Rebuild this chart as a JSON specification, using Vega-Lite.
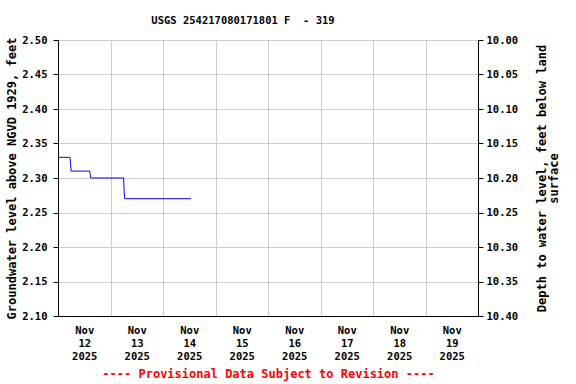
{
  "$schema": "https://vega.github.io/schema/vega-lite/v6.json",
  "width": 420,
  "height": 276,
  "autosize": {"type": "none"},
  "padding": {"left": 58, "top": 40, "right": 98, "bottom": 68},
  "background": "white",
  "title": {"text": "USGS 254217080171801 F\u00a0 - 319", "font": "DejaVu Sans Mono", "fontSize": 10.5, "fontWeight": "bold", "color": "black", "offset": 9, "dx": -25},
  "config": {
    "view": {"stroke": "black", "strokeWidth": 1},
    "axis": {
      "labelFont": "DejaVu Sans Mono", "labelFontWeight": "bold", "labelFontSize": 10.5, "labelColor": "black",
      "titleFont": "DejaVu Sans Mono", "titleFontWeight": "bold", "titleFontSize": 12, "titleColor": "black",
      "domainColor": "black", "tickColor": "black", "gridColor": "#cccccc", "gridWidth": 1, "gridOpacity": 1
    }
  },
  "data": {"values": [
    {"time": "2025-11-12T00:00:00", "level": 2.33},
    {"time": "2025-11-12T05:30:00", "level": 2.33},
    {"time": "2025-11-12T05:45:00", "level": 2.32},
    {"time": "2025-11-12T06:00:00", "level": 2.31},
    {"time": "2025-11-12T14:30:00", "level": 2.31},
    {"time": "2025-11-12T14:45:00", "level": 2.305},
    {"time": "2025-11-12T15:00:00", "level": 2.30},
    {"time": "2025-11-13T06:00:00", "level": 2.30},
    {"time": "2025-11-13T06:15:00", "level": 2.28},
    {"time": "2025-11-13T06:30:00", "level": 2.27},
    {"time": "2025-11-14T12:45:00", "level": 2.27}
  ]},
  "layer": [
    {
      "mark": {"type": "line", "color": "#0000ff", "strokeWidth": 1, "clip": true},
      "encoding": {
        "x": {
          "field": "time", "type": "temporal",
          "scale": {"domain": [{"year": 2025, "month": 11, "date": 12}, {"year": 2025, "month": 11, "date": 20}]},
          "axis": {
            "values": [
              {"year": 2025, "month": 11, "date": 12, "hours": 12},
              {"year": 2025, "month": 11, "date": 13, "hours": 12},
              {"year": 2025, "month": 11, "date": 14, "hours": 12},
              {"year": 2025, "month": 11, "date": 15, "hours": 12},
              {"year": 2025, "month": 11, "date": 16, "hours": 12},
              {"year": 2025, "month": 11, "date": 17, "hours": 12},
              {"year": 2025, "month": 11, "date": 18, "hours": 12},
              {"year": 2025, "month": 11, "date": 19, "hours": 12}
            ],
            "labelExpr": "[timeFormat(datum.value, '%b'), timeFormat(datum.value, '%d'), timeFormat(datum.value, '%Y')]",
            "labelLineHeight": 13, "labelPadding": 9, "labelAngle": 0,
            "grid": false, "ticks": false, "domain": true,
            "title": "---- Provisional Data Subject to Revision ----",
            "titleColor": "red", "titlePadding": 7
          }
        },
        "y": {
          "field": "level", "type": "quantitative",
          "scale": {"domain": [2.1, 2.5], "nice": false, "zero": false},
          "axis": {
            "values": [2.1, 2.15, 2.2, 2.25, 2.3, 2.35, 2.4, 2.45, 2.5],
            "format": ".2f", "grid": true, "tickSize": 5, "labelPadding": 6,
            "title": "Groundwater level above NGVD 1929, feet", "titlePadding": 3
          }
        }
      }
    },
    {
      "mark": {"type": "line", "strokeOpacity": 0},
      "encoding": {
        "x": {
          "field": "time", "type": "temporal",
          "axis": {
            "orient": "top",
            "values": [
              {"year": 2025, "month": 11, "date": 13},
              {"year": 2025, "month": 11, "date": 14},
              {"year": 2025, "month": 11, "date": 15},
              {"year": 2025, "month": 11, "date": 16},
              {"year": 2025, "month": 11, "date": 17},
              {"year": 2025, "month": 11, "date": 18},
              {"year": 2025, "month": 11, "date": 19}
            ],
            "grid": true, "labels": false, "ticks": false, "domain": false, "title": null
          }
        },
        "y": {
          "field": "level", "type": "quantitative",
          "axis": {
            "orient": "right",
            "values": [2.1, 2.15, 2.2, 2.25, 2.3, 2.35, 2.4, 2.45, 2.5],
            "labelExpr": "format(12.5 - datum.value, '.2f')",
            "grid": false, "tickSize": 5, "labelPadding": 3,
            "title": ["Depth to water level, feet below land", "surface"],
            "titleAngle": -90, "titlePadding": 19, "titleLineHeight": 12
          }
        }
      }
    }
  ],
  "resolve": {"axis": {"x": "independent", "y": "independent"}}
}
